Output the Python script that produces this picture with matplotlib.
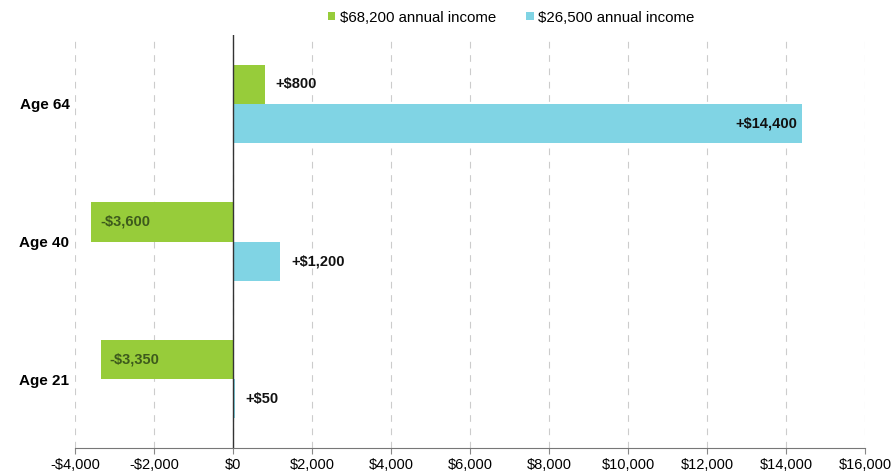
import numpy as np
import matplotlib.pyplot as plt
from matplotlib.ticker import FuncFormatter

plt.rcParams['font.family'] = ['Liberation Sans', 'DejaVu Sans']

ages = ['Age 21', 'Age 40', 'Age 64']
high_income = [-3350, -3600, 800]
low_income = [50, 1200, 14400]
high_name = '$68,200 annual income'
low_name = '$26,500 annual income'
xticks = np.arange(-4000, 16001, 2000)

green = '#97cc3a'
blue = '#80d4e4'

fig = plt.figure(figsize=(8.96, 4.75), dpi=100)
ax = fig.add_axes([0.0837, 0.0568, 0.8817, 0.8695])

y = np.arange(len(ages))
h = 0.285
ax.barh(y + h / 2, high_income, height=h, color=green, label=high_name, zorder=3)
ax.barh(y - h / 2, low_income, height=h, color=blue, label=low_name, zorder=3)

def money(v):
    s = '${:,.0f}'.format(abs(v))
    return ('-' if v < 0 else '+') + s

# value labels: negative ones sit inside the bar, small positive ones outside
for i in range(len(ages)):
    v = high_income[i]
    if v < 0:
        ax.text(v + 230, y[i] + h / 2, money(v), ha='left', va='center',
                fontsize=10.5, fontweight='bold', color='#3d5a1c', zorder=4)
    else:
        ax.text(v + 270, y[i] + h / 2, money(v), ha='left', va='center',
                fontsize=10.5, fontweight='bold', color='#111111', zorder=4)
    v = low_income[i]
    if v > 10000:
        ax.text(v - 120, y[i] - h / 2, money(v), ha='right', va='center',
                fontsize=10.5, fontweight='bold', color='#111111', zorder=4)
    else:
        ax.text(v + 270, y[i] - h / 2, money(v), ha='left', va='center',
                fontsize=10.5, fontweight='bold', color='#111111', zorder=4)

ax.set_xlim(-4000, 16000)
ax.set_ylim(-0.5, 2.5)
ax.set_xticks(xticks)
ax.xaxis.set_major_formatter(FuncFormatter(lambda v, p: ('-' if v < 0 else '') + '${:,.0f}'.format(abs(v))))
ax.set_yticks(y)
ax.set_yticklabels(ages, fontweight='bold', fontsize=11)
ax.tick_params(axis='y', length=0, pad=4)
ax.tick_params(axis='x', length=4, color='#888888', labelsize=10.5, pad=3)

ax.grid(axis='x', color='#cccccc', linestyle=(0, (6, 6)), linewidth=0.8, zorder=0)
ax.axvline(0, color='#333333', linewidth=1.0, zorder=5)
for s in ['top', 'right', 'left']:
    ax.spines[s].set_visible(False)
ax.spines['bottom'].set_color('#777777')

ax.legend(loc='lower center', bbox_to_anchor=(0.552, 1.0), ncol=2, frameon=False,
          fontsize=10.8, handlelength=0.5, handleheight=0.5, handletextpad=0.3,
          columnspacing=2.0, borderaxespad=0.3)

fig.savefig('out.png', dpi=100)
